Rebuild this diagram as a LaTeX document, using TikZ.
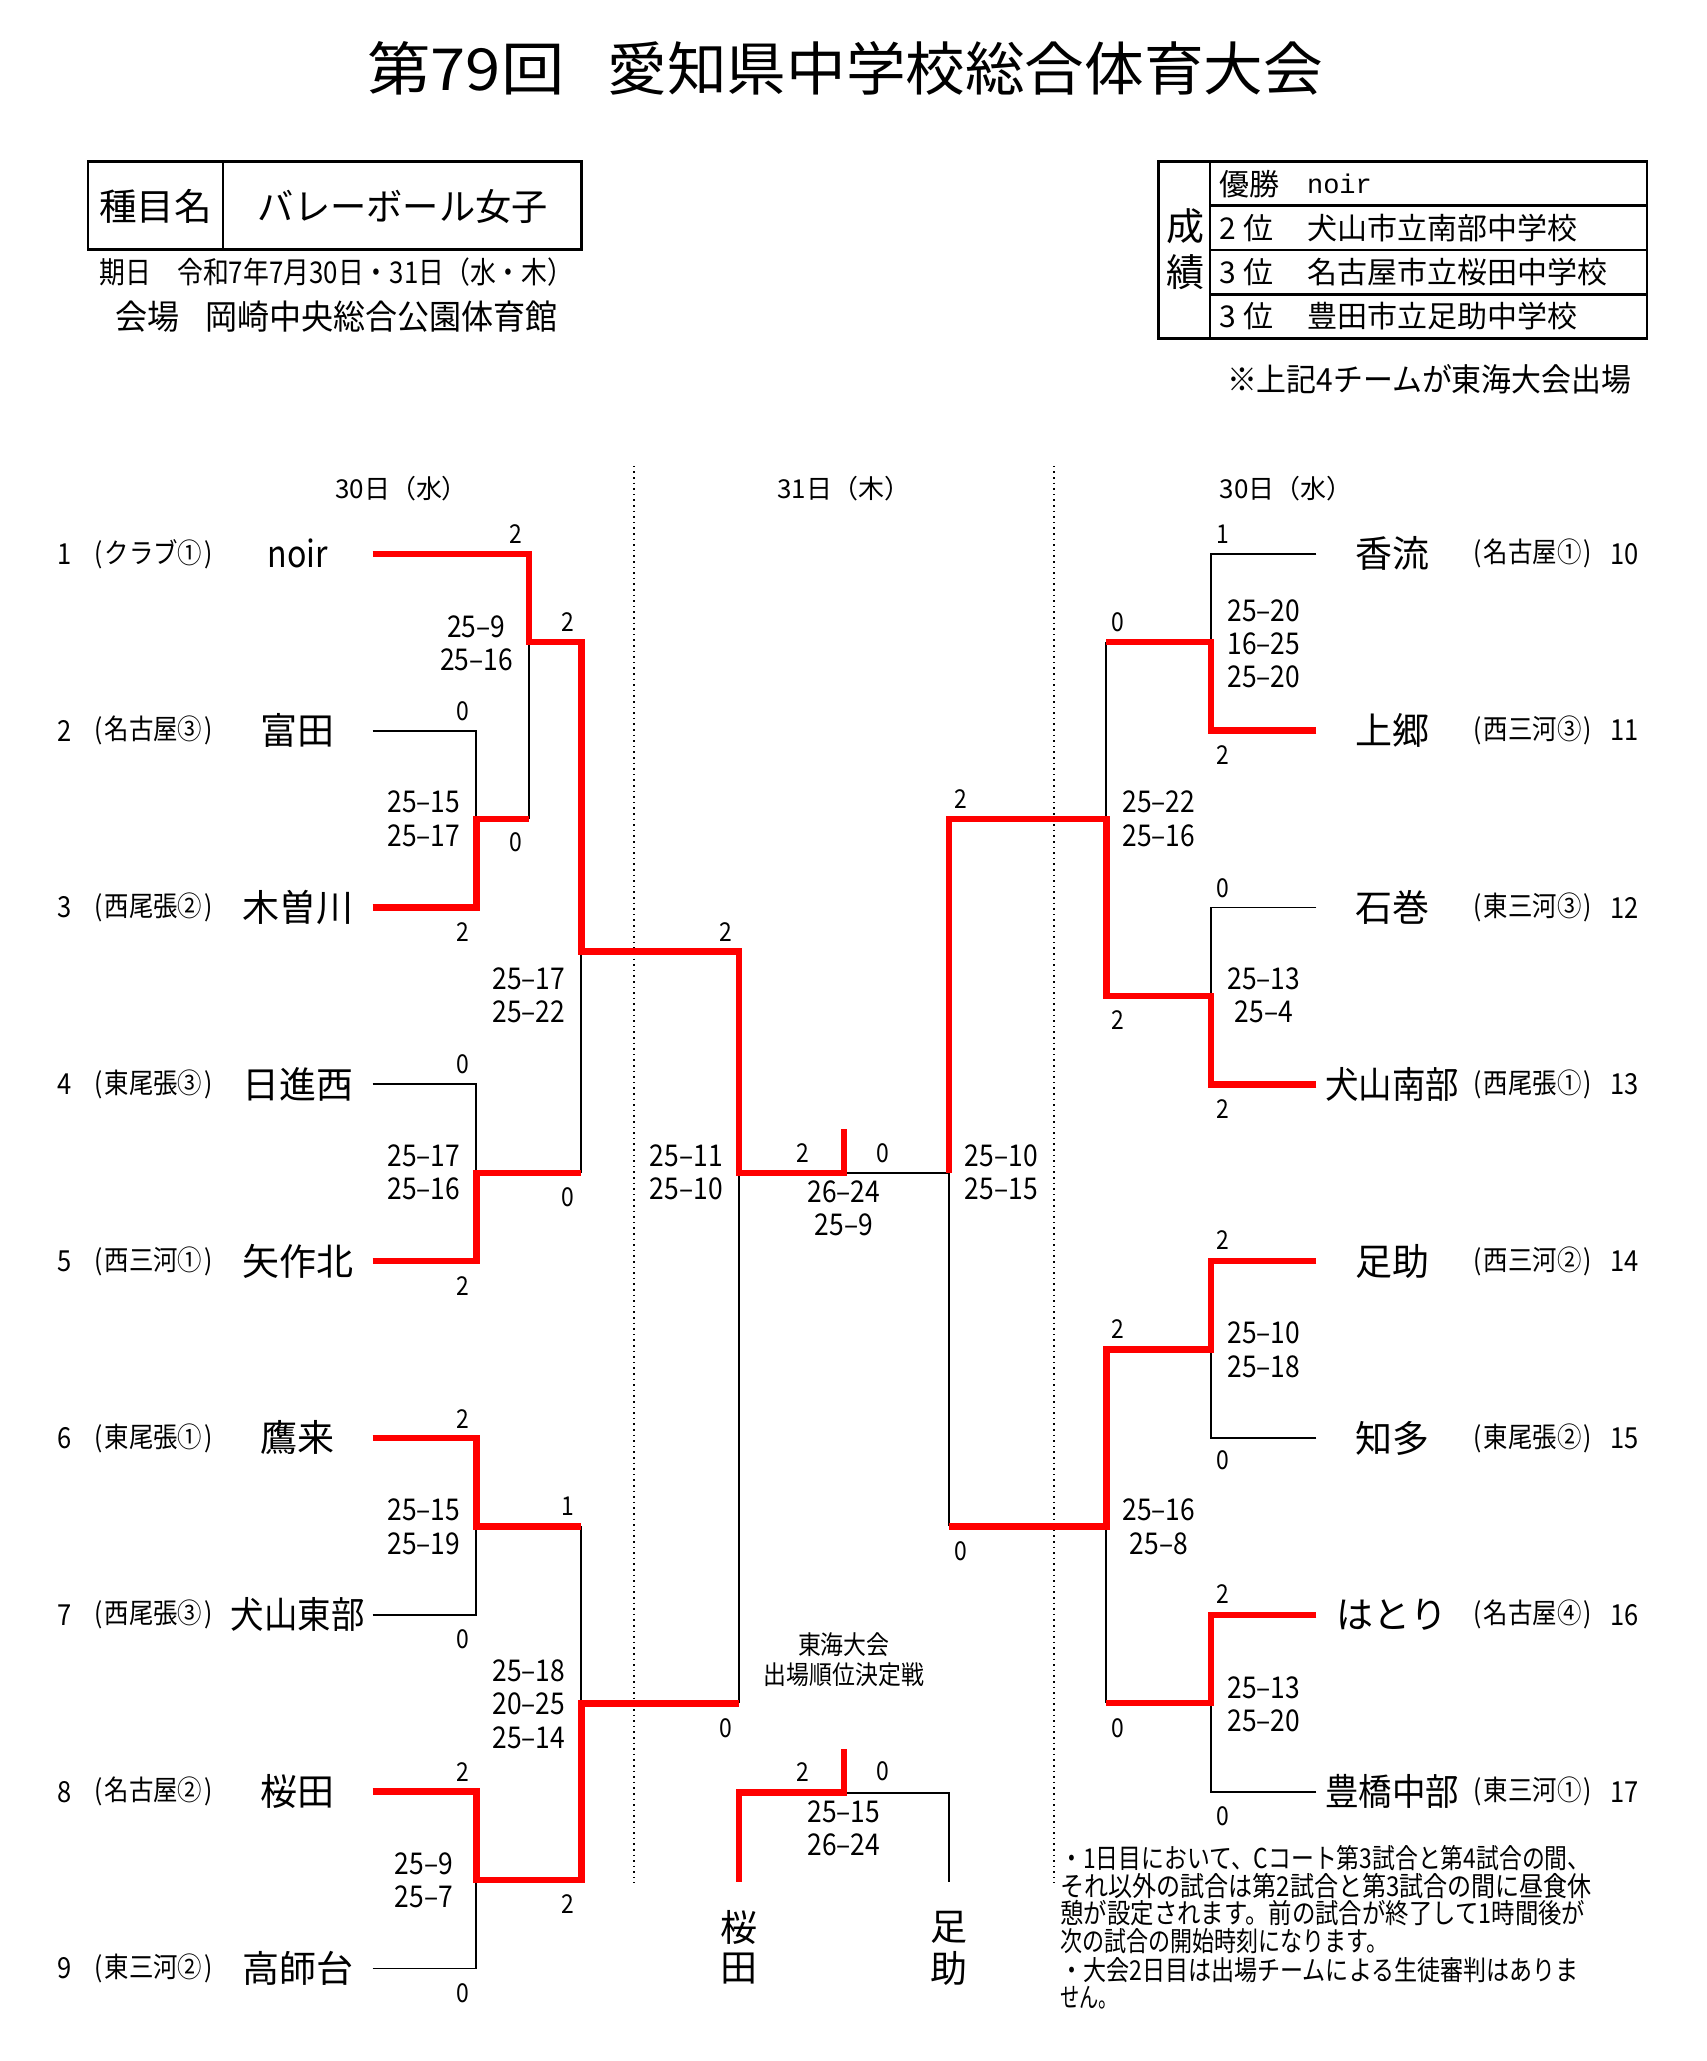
\documentclass[tikz,border=0pt]{standalone}
\usepackage{fontspec}
\usepackage{graphicx}
\setmainfont{Noto Sans CJK JP}
\newfontfamily\cnd[FakeStretch=0.88]{Noto Sans CJK JP}
\newfontfamily\monofam{Liberation Mono}
\newlength\du
\setlength\du{0.65625pt}
\newcommand\fsz[1]{\fontsize{#1}{#1}\selectfont}
\newcommand\fitw[2]{\resizebox{#1\du}{\height}{#2}}
\newcommand\regl[1]{\fitw{90}{(\hspace{0.08em}#1\hspace{0.08em})}}
\tikzset{
  lbl/.style={inner sep=0pt, outer sep=0pt},
  nm/.style={lbl, font=\fsz{18.5}},
  reg/.style={lbl, font=\fsz{14}},
  teamno/.style={lbl, font=\cnd\fsz{14.5}},
  cnt/.style={lbl, font=\cnd\fsz{13}},
  scr/.style={lbl, align=center, font=\cnd\fontsize{15}{16.7}\selectfont},
  day/.style={lbl, font=\fsz{13}},
  redl/.style={draw=red, line width=3.2pt, line join=miter},
  blkl/.style={draw=black, line width=0.9pt},
  dayline/.style={draw=black, line width=0.8pt, dotted},
  frame/.style={draw=black, line width=1.3pt},
  note/.style={lbl, anchor=west, font=\cnd\fsz{13.7}},
}
\begin{document}
\begin{tikzpicture}[x=0.65625pt,y=-0.65625pt]
\useasboundingbox (0,0) rectangle (1300,1570.5);
\fill[white] (0,0) rectangle (1300,1570.5);

% ---------- title ----------
\node[lbl,font=\fsz{29}] (T1) at (355,52) {\fitw{150}{第79回}};
\node[lbl,font=\fsz{29}] (T2) at (735.5,52) {\fitw{545}{愛知県中学校総合体育大会}};

% ---------- left info table ----------
\draw[frame] (67,123) rectangle (443,190);
\draw[frame] (170,123) -- (170,190);
\node[lbl,font=\fsz{18.5}] (K1) at (118.5,157) {\fitw{86}{種目名}};
\node[lbl,font=\fsz{18.5}] (K2) at (307,157) {\fitw{221}{バレーボール女子}};
\node[lbl,anchor=west,font=\fsz{15}] (D1) at (76,207) {\fitw{361}{期日\hspace{1em}令和7年7月30日・31日（水・木）}};
\node[lbl,anchor=west,font=\fsz{17}] (D2) at (88,241) {\fitw{337}{会場\hspace{0.8em}岡崎中央総合公園体育館}};

% ---------- right result table ----------
\draw[frame] (883,123) rectangle (1255,258);
\draw[frame] (922,123) -- (922,258);
\draw[frame] (922,156.75) -- (1255,156.75);
\draw[frame] (922,190.5) -- (1255,190.5);
\draw[frame] (922,224.25) -- (1255,224.25);
\node[lbl,font=\fsz{19}] (S1) at (903,172) {成};
\node[lbl,font=\fsz{19}] (S2) at (903,207) {績};
\node[lbl,anchor=west,font=\fsz{15}] (R1a) at (929,140) {優勝};
\node[lbl,anchor=west,font=\monofam\fsz{13.5}] (R1b) at (996,140) {noir};
\node[lbl,anchor=west,font=\fsz{15}] (R2a) at (929,173.6) {2\hspace{0.25em}位};
\node[lbl,anchor=west,font=\fsz{15}] (R2b) at (996,173.6) {犬山市立南部中学校};
\node[lbl,anchor=west,font=\fsz{15}] (R3a) at (929,207.4) {3\hspace{0.25em}位};
\node[lbl,anchor=west,font=\fsz{15}] (R3b) at (996,207.4) {名古屋市立桜田中学校};
\node[lbl,anchor=west,font=\fsz{15}] (R4a) at (929,241.1) {3\hspace{0.25em}位};
\node[lbl,anchor=west,font=\fsz{15}] (R4b) at (996,241.1) {豊田市立足助中学校};
\node[lbl,font=\fsz{16}] (N0) at (1089,289) {\fitw{308}{※上記4チームが東海大会出場}};

% ---------- day headers & separators ----------
\node[day] (H1) at (306,372) {30日（水）};
\node[day] (H2) at (643,372) {31日（木）};
\node[day] (H3) at (980,372) {30日（水）};
\coordinate (d1t) at (483,355); \coordinate (d1b) at (483,1435);
\coordinate (d2t) at (803,355); \coordinate (d2b) at (803,1435);
\draw[dayline] (d1t) -- (d1b);
\draw[dayline] (d2t) -- (d2b);

% ---------- bracket coordinates ----------
\coordinate (t1) at (284,422);
\coordinate (t2) at (284,556.75);
\coordinate (t3) at (284,691.5);
\coordinate (t4) at (284,826.25);
\coordinate (t5) at (284,961);
\coordinate (t6) at (284,1095.75);
\coordinate (t7) at (284,1230.5);
\coordinate (t8) at (284,1365.25);
\coordinate (t9) at (284,1500);
\coordinate (m23) at (363,624.1);
\coordinate (m45) at (363,893.6);
\coordinate (m67) at (363,1163.1);
\coordinate (m89) at (363,1432.6);
\coordinate (q1) at (403,489.4);
\coordinate (q2) at (443,725);
\coordinate (q3) at (443,1298);
\coordinate (s1) at (563,893.6);
\coordinate (fc) at (643,893.6);
\coordinate (ftick) at (643,860);
\coordinate (u1) at (1003,422);
\coordinate (u2) at (1003,556.75);
\coordinate (u3) at (1003,691.5);
\coordinate (u4) at (1003,826.25);
\coordinate (u5) at (1003,961);
\coordinate (u6) at (1003,1095.75);
\coordinate (u7) at (1003,1230.5);
\coordinate (u8) at (1003,1365.25);
\coordinate (n12) at (923,489.4);
\coordinate (n34) at (923,758.9);
\coordinate (n56) at (923,1028.4);
\coordinate (n78) at (923,1297.9);
\coordinate (p1) at (843,624.1);
\coordinate (p2) at (843,1163.1);
\coordinate (s2) at (723,893.6);
\coordinate (b1) at (563,1434);
\coordinate (b2) at (723,1434);
\coordinate (bc) at (643,1366);
\coordinate (btick) at (643,1333);

% ---------- black (losing) lines ----------
\draw[blkl] (t2) -| (m23);
\draw[blkl] (m23 -| q1) -- (q1);
\draw[blkl] (t4) -| (m45);
\draw[blkl] (m45 -| q2) -- (q2);
\draw[blkl] (t7) -| (m67);
\draw[blkl] (m67 -| q3) -- (q3);
\draw[blkl] (t9) -| (m89);
\draw[blkl] (q3 -| s1) -- (s1);
\draw[blkl] (fc) -- (s2);
\draw[blkl] (u1) -| (n12);
\draw[blkl] (n12 -| p1) -- (p1);
\draw[blkl] (u3) -| (n34);
\draw[blkl] (s2) -- (s2 |- p2);
\draw[blkl] (u6) -| (n56);
\draw[blkl] (p2) -- (p2 |- n78);
\draw[blkl] (u8) -| (n78);
\draw[blkl] (bc) -| (b2);

% ---------- red (winning) lines ----------
\draw[redl] (t3) -| (m23) -- (m23 -| q1);
\draw[redl] (t1) -| (q1) -| (q2) -| (s1) -| (ftick);
\draw[redl] (t5) -| (m45) -- (m45 -| q2);
\draw[redl] (t6) -| (m67) -- (m67 -| q3);
\draw[redl] (t8) -| (m89) -| (q3) -- (q3 -| s1);
\draw[redl] (u2) -| (n12) -- (n12 -| p1);
\draw[redl] (u4) -| (n34) -| (p1) -| (s2);
\draw[redl] (u5) -| (n56) -| (p2) -- (p2 -| s2);
\draw[redl] (u7) -| (n78) -- (n78 -| p2);
\draw[redl] (b1) |- (bc) -- (btick);

% ---------- left teams ----------
\node[teamno] (LA1) at (49,422) {1};
\node[teamno] (LA2) at (49,556.75) {2};
\node[teamno] (LA3) at (49,691.5) {3};
\node[teamno] (LA4) at (49,826.25) {4};
\node[teamno] (LA5) at (49,961) {5};
\node[teamno] (LA6) at (49,1095.75) {6};
\node[teamno] (LA7) at (49,1230.5) {7};
\node[teamno] (LA8) at (49,1365.25) {8};
\node[teamno] (LA9) at (49,1500) {9};
\node[reg] (LB1) at (117,422) {\regl{クラブ①}};
\node[reg] (LB2) at (117,556.75) {\regl{名古屋③}};
\node[reg] (LB3) at (117,691.5) {\regl{西尾張②}};
\node[reg] (LB4) at (117,826.25) {\regl{東尾張③}};
\node[reg] (LB5) at (117,961) {\regl{西三河①}};
\node[reg] (LB6) at (117,1095.75) {\regl{東尾張①}};
\node[reg] (LB7) at (117,1230.5) {\regl{西尾張③}};
\node[reg] (LB8) at (117,1365.25) {\regl{名古屋②}};
\node[reg] (LB9) at (117,1500) {\regl{東三河②}};
\node[nm] (LC1) at (227,422) {\fitw{46}{noir}};
\node[nm] (LC2) at (227,556.75) {富田};
\node[nm] (LC3) at (227,691.5) {木曽川};
\node[nm] (LC4) at (227,826.25) {日進西};
\node[nm] (LC5) at (227,961) {矢作北};
\node[nm] (LC6) at (227,1095.75) {鷹来};
\node[nm] (LC7) at (227,1230.5) {\fitw{102}{犬山東部}};
\node[nm] (LC8) at (227,1365.25) {桜田};
\node[nm] (LC9) at (227,1500) {高師台};

% ---------- right teams ----------
\node[nm] (RC1) at (1061,422) {香流};
\node[nm] (RC2) at (1061,556.75) {上郷};
\node[nm] (RC3) at (1061,691.5) {石巻};
\node[nm] (RC4) at (1061,826.25) {\fitw{102}{犬山南部}};
\node[nm] (RC5) at (1061,961) {足助};
\node[nm] (RC6) at (1061,1095.75) {知多};
\node[nm] (RC7) at (1061,1230.5) {はとり};
\node[nm] (RC8) at (1061,1365.25) {\fitw{102}{豊橋中部}};
\node[reg] (RB1) at (1168,422) {\regl{名古屋①}};
\node[reg] (RB2) at (1168,556.75) {\regl{西三河③}};
\node[reg] (RB3) at (1168,691.5) {\regl{東三河③}};
\node[reg] (RB4) at (1168,826.25) {\regl{西尾張①}};
\node[reg] (RB5) at (1168,961) {\regl{西三河②}};
\node[reg] (RB6) at (1168,1095.75) {\regl{東尾張②}};
\node[reg] (RB7) at (1168,1230.5) {\regl{名古屋④}};
\node[reg] (RB8) at (1168,1365.25) {\regl{東三河①}};
\node[teamno] (RA1) at (1238,422) {10};
\node[teamno] (RA2) at (1238,556.75) {11};
\node[teamno] (RA3) at (1238,691.5) {12};
\node[teamno] (RA4) at (1238,826.25) {13};
\node[teamno] (RA5) at (1238,961) {14};
\node[teamno] (RA6) at (1238,1095.75) {15};
\node[teamno] (RA7) at (1238,1230.5) {16};
\node[teamno] (RA8) at (1238,1365.25) {17};

% ---------- match counts ----------
\foreach \x/\y/\v [count=\k] in {
  393/407/2, 433/474/2, 353/542/0, 393/642/0, 353/710/2, 553/710/2,
  353/811/0, 433/912/0, 353/980/2, 353/1081/2, 433/1148/1, 353/1249/0,
  553/1317/0, 353/1350/2, 433/1451/2, 353/1519/0,
  612/879/2, 673/879/0, 612/1350/2, 673/1350/0,
  932/407/1, 852/474/0, 932/575/2, 732/609/2, 932/677/0, 852/777/2,
  932/845/2, 932/945/2, 852/1013/2, 932/1113/0, 732/1182/0, 932/1215/2,
  852/1317/0, 932/1384/0}
  \node[cnt] (c\k) at (\x,\y) {\v};

% ---------- set scores ----------
\node[scr] (g1) at (363,490) {25–9\\25–16};
\node[scr] (g2) at (323,624) {25–15\\25–17};
\node[scr] (g3) at (403,758.5) {25–17\\25–22};
\node[scr] (g4) at (323,893.5) {25–17\\25–16};
\node[scr] (g5) at (523,893.5) {25–11\\25–10};
\node[scr] (g6) at (643,920.5) {26–24\\25–9};
\node[scr] (g7) at (763,893.5) {25–10\\25–15};
\node[scr] (g8) at (323,1163.5) {25–15\\25–19};
\node[scr] (g9) at (403,1298.5) {25–18\\20–25\\25–14};
\node[scr] (g10) at (323,1433) {25–9\\25–7};
\node[scr] (g11) at (643,1393) {25–15\\26–24};
\node[scr] (g12) at (963,490.5) {25–20\\16–25\\25–20};
\node[scr] (g13) at (883,624) {25–22\\25–16};
\node[scr] (g14) at (963,758.5) {25–13\\25–4};
\node[scr] (g15) at (963,1028.5) {25–10\\25–18};
\node[scr] (g16) at (883,1163.5) {25–16\\25–8};
\node[scr] (g17) at (963,1298.5) {25–13\\25–20};

% ---------- third place ----------
\node[lbl,align=center,font=\cnd\fontsize{13}{15}\selectfont] (TP) at (643,1264.5) {東海大会\\出場順位決定戦};
\node[nm] (V1) at (563,1469) {桜};
\node[nm] (V2) at (563,1500) {田};
\node[nm] (V3) at (723,1469) {足};
\node[nm] (V4) at (723,1500) {助};

% ---------- notes ----------
\node[note] (M1) at (808,1416) {\fitw{404}{・1日目において、Cコート第3試合と第4試合の間、}};
\node[note] (M2) at (808,1437) {\fitw{405}{それ以外の試合は第2試合と第3試合の間に昼食休}};
\node[note] (M3) at (808,1458) {\fitw{400}{憩が設定されます。前の試合が終了して1時間後が}};
\node[note] (M4) at (808,1479) {\fitw{250}{次の試合の開始時刻になります。}};
\node[note] (M5) at (808,1501) {\fitw{395}{・大会2日目は出場チームによる生徒審判はありま}};
\node[note] (M6) at (808,1522) {\fitw{44}{せん。}};
\end{tikzpicture}
\end{document}
